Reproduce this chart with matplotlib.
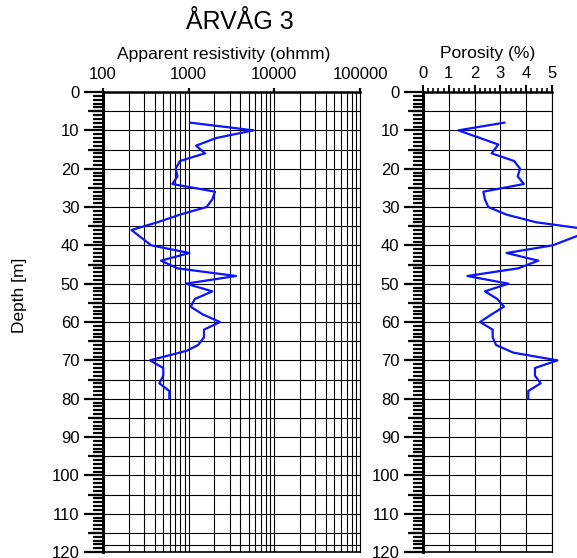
import numpy as np
import matplotlib
matplotlib.use("Agg")
import matplotlib.pyplot as plt
from matplotlib.ticker import MultipleLocator, FixedLocator, LogLocator, NullFormatter, FixedFormatter

plt.rcParams['font.family'] = ['Liberation Sans', 'DejaVu Sans']

# resistivity log (ohmm) vs depth (m)
res_depth = [8, 10, 12, 14, 16, 18, 20, 22, 24, 26, 28, 30, 32, 34, 36, 38, 40, 42, 44, 46,
             48, 50, 52, 54, 56, 58, 60, 62, 64, 66, 67.5, 70, 72, 74, 76, 78, 80]
res_value = [1040, 5700, 2100, 1220, 1550, 790, 705, 740, 645, 2030, 1890, 1620, 790, 430, 215, 280, 365, 1020, 475, 740,
             3570, 930, 1890, 1180, 1055, 1455, 2320, 1510, 1510, 1290, 950, 353, 505, 505, 455, 595, 595]

# porosity (%) vs depth (m)
por_depth = [8, 10, 13.7, 16, 18, 20, 22, 24, 26, 28, 30, 32, 34, 36, 38, 40, 42, 44, 46,
             48, 50, 52, 54, 56, 58, 60, 62, 64, 66, 68, 70, 72, 74, 76, 78, 80]
por_value = [3.15, 1.37, 2.92, 2.66, 3.53, 3.76, 3.67, 3.91, 2.34, 2.40, 2.53, 3.24, 4.4, 6.6, 5.8, 5.03, 3.24, 4.47, 3.69,
             1.72, 3.31, 2.40, 2.88, 3.14, 2.66, 2.21, 2.70, 2.70, 2.83, 3.50, 5.21, 4.34, 4.34, 4.56, 4.08, 4.08]

res_ticks = [100, 1000, 10000, 100000]
res_labels = ['100', '1000', '10000', '100000']
por_ticks = [0, 1, 2, 3, 4, 5]
depth_ticks = list(range(0, 121, 10))

W, H = 577, 558
fig = plt.figure(figsize=(W / 100, H / 100), dpi=100)

def px_box(x0, y0, x1, y1):
    return [x0 / W, 1 - y1 / H, (x1 - x0) / W, (y1 - y0) / H]

ax1 = fig.add_axes(px_box(103, 92, 360, 552))
ax2 = fig.add_axes(px_box(423, 92, 552, 552))

blue = '#0a14ff'
grid_kw = dict(color='black', lw=0.8, zorder=1)


def depth_axis(ax):
    ax.set_ylim(120, 0)
    ax.yaxis.set_major_locator(FixedLocator(depth_ticks))
    ax.yaxis.set_minor_locator(MultipleLocator(1))
    ax.tick_params(axis='y', which='major', direction='out', length=14, width=1.6,
                   labelsize=12, pad=3, left=True, right=False)
    ax.tick_params(axis='y', which='minor', direction='out', length=7, width=1.6,
                   left=True, right=False)
    # half-decade ticks every 5 m
    sec = ax.secondary_yaxis('left')
    sec.yaxis.set_major_locator(FixedLocator(list(range(5, 120, 10))))
    sec.yaxis.set_minor_locator(FixedLocator([]))
    sec.tick_params(axis='y', which='major', direction='out', length=11, width=1.6,
                    labelleft=False)
    sec.spines['left'].set_linewidth(2)
    for d in range(5, 121, 5):
        ax.axhline(d, **grid_kw)
    ax.axhline(118.3, **grid_kw)
    ax.spines['left'].set_linewidth(2)
    ax.spines['top'].set_linewidth(1.8)
    ax.spines['right'].set_linewidth(0.8)
    ax.spines['bottom'].set_linewidth(1.2)
    ax.xaxis.set_ticks_position('top')
    ax.xaxis.set_label_position('top')


# resistivity panel
ax1.set_xscale('log')
ax1.set_xlim(100, 100000)
depth_axis(ax1)
ax1.xaxis.set_major_locator(FixedLocator(res_ticks))
ax1.xaxis.set_major_formatter(FixedFormatter(res_labels))
ax1.xaxis.set_minor_locator(LogLocator(base=10, subs=np.arange(2, 10)))
ax1.xaxis.set_minor_formatter(NullFormatter())
ax1.tick_params(axis='x', which='major', direction='out', length=3, width=1.6,
                labelsize=12, pad=4, top=True, bottom=False)
ax1.tick_params(axis='x', which='minor', length=0, top=False, bottom=False)
ax1.grid(True, which='both', axis='x', color='black', lw=0.8, zorder=1)
ax1.plot(res_value, res_depth, color=blue, lw=1.6, zorder=3)
ax1.set_xlabel('Apparent resistivity (ohmm)', fontsize=12.6, labelpad=6)
ax1.xaxis.label.set_position((0.47, 1))

# porosity panel
ax2.set_xlim(0, 5)
depth_axis(ax2)
ax2.xaxis.set_major_locator(FixedLocator(por_ticks))
ax2.xaxis.set_minor_locator(MultipleLocator(0.2))
ax2.tick_params(axis='x', which='major', direction='out', length=5, width=1.4,
                labelsize=12, pad=3, top=True, bottom=False)
ax2.tick_params(axis='x', which='minor', direction='out', length=3, width=1.2,
                top=True, bottom=False)
ax2.grid(True, which='major', axis='x', color='black', lw=0.8, zorder=1)
ax2.plot(por_value, por_depth, color=blue, lw=1.6, zorder=3, clip_on=False)
ax2.set_xlabel('Porosity (%)', fontsize=12.6, labelpad=6)

fig.text(240 / W, 1 - 22 / H, 'ÅRVÅG 3', fontsize=18, ha='center', va='center')
fig.text(20 / W, 1 - 295 / H, 'Depth [m]', fontsize=12.5, rotation=90,
         ha='center', va='center')

fig.savefig('out.png', dpi=100)
